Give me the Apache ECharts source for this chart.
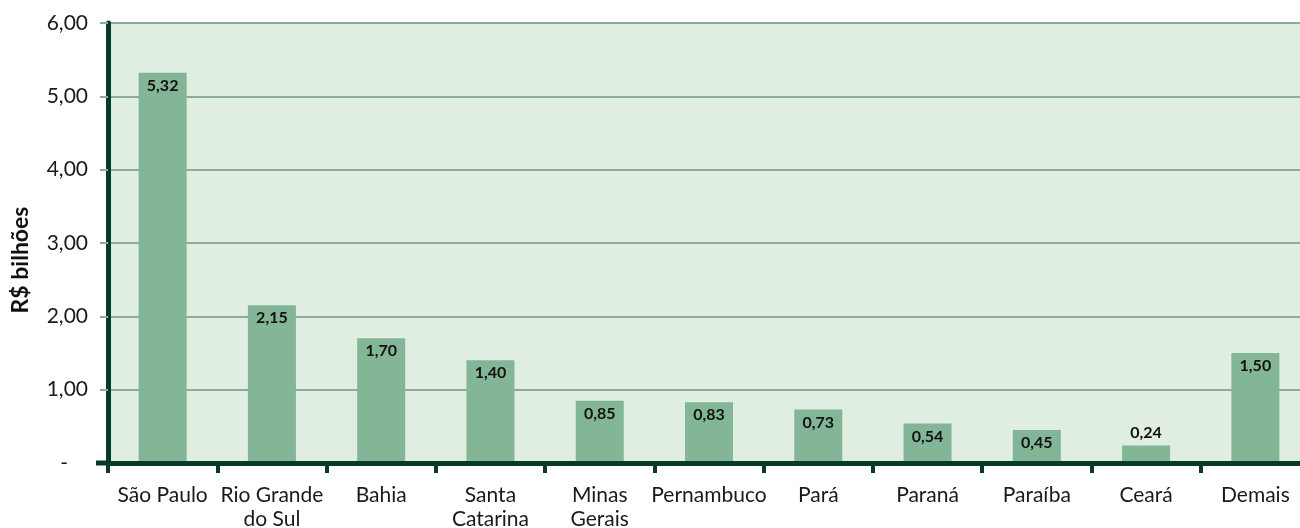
<!DOCTYPE html>
<html>
<head>
<meta charset="utf-8">
<script src="https://cdn.jsdelivr.net/npm/echarts@6/dist/echarts.min.js"></script>
<style>
html,body{margin:0;padding:0;background:#fff;}
#chart{width:1300px;height:528px;}
</style>
</head>
<body>
<div id="chart"></div>
<script>
const categories = ['São Paulo', 'Rio Grande\ndo Sul', 'Bahia', 'Santa\nCatarina', 'Minas\nGerais', 'Pernambuco', 'Pará', 'Paraná', 'Paraíba', 'Ceará', 'Demais'];
const values = [5.32, 2.15, 1.70, 1.40, 0.85, 0.83, 0.73, 0.54, 0.45, 0.24, 1.50];
const yTicks = [0, 1, 2, 3, 4, 5, 6];
const yAxisName = 'R$ bilhões';

const FONT = 'Lato';
const AXIS = '#063b27';
const GRID = '#8cab99';
const fmt = v => v.toFixed(2).replace('.', ',');

const chart = echarts.init(document.getElementById('chart'));
chart.setOption({
  animation: false,
  grid: {left: 108, width: 1202, top: 23, height: 440, outerBoundsMode: 'none', containLabel: false, show: true, backgroundColor: '#e0ede1', borderWidth: 0},
  xAxis: {
    type: 'category',
    data: categories,
    axisLine: {show: true, lineStyle: {color: AXIS, width: 5}},
    axisTick: {show: true, length: 10, lineStyle: {color: AXIS, width: 4}},
    axisLabel: {color: '#1a1a1a', fontFamily: FONT, fontSize: 21, margin: 20, lineHeight: 24, interval: 0},
    z: 5
  },
  yAxis: {
    type: 'value',
    min: yTicks[0],
    max: yTicks[yTicks.length - 1],
    interval: 1,
    name: yAxisName,
    nameLocation: 'middle',
    nameRotate: 90,
    nameGap: 76,
    nameTextStyle: {fontFamily: FONT, fontWeight: 'bold', fontSize: 23, color: '#111', padding: [0, 34, 0, 0]},
    axisLine: {show: true, lineStyle: {color: AXIS, width: 5}},
    axisTick: {show: true, length: 8, lineStyle: {color: GRID, width: 2}},
    splitLine: {show: true, lineStyle: {color: GRID, width: 2}},
    axisLabel: {
      color: '#1a1a1a', fontFamily: FONT, fontSize: 21, margin: 20,
      formatter: v => v === 0 ? '{z|-}' : fmt(v),
      rich: {z: {fontFamily: FONT, fontSize: 21, color: '#1a1a1a', padding: [0, 20, 0, 0]}}
    }
  },
  series: [{
    type: 'bar',
    barWidth: 48,
    z: 3,
    itemStyle: {color: '#83b597'},
    data: values.map(v => v < 0.3 ? {value: v, label: {position: 'top'}} : v),
    label: {
      show: true, position: 'insideTop', distance: 5,
      fontFamily: FONT, fontWeight: 'bold', fontSize: 16, color: '#111',
      formatter: p => fmt(p.value)
    }
  }]
});

// short extension of the baseline to the left of the value axis
const ay = chart.convertToPixel({yAxisIndex: 0}, 0);
chart.setOption({
  graphic: [{
    type: 'line', z: 10,
    shape: {x1: 96, y1: ay, x2: 110, y2: ay},
    style: {stroke: AXIS, lineWidth: 5}
  }]
});
</script>
</body>
</html>
